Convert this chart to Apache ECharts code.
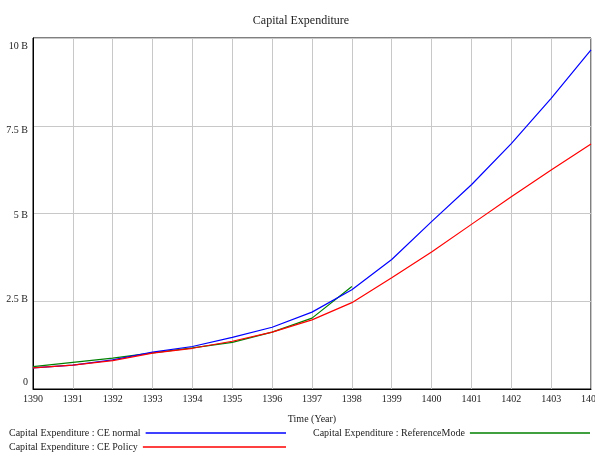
<!DOCTYPE html>
<html>
<head>
<meta charset="utf-8">
<script src="https://cdn.jsdelivr.net/npm/echarts@6/dist/echarts.min.js"></script>
<style>html,body{margin:0;padding:0;background:#fff}#c{width:595px;height:452px}</style>
</head>
<body>
<div id="c"></div>
<script>
// ---- data (values in billions) ----
const years = [1390,1391,1392,1393,1394,1395,1396,1397,1398,1399,1400,1401,1402,1403,1404];
const ceNormal = [0.60,0.68,0.83,1.05,1.21,1.47,1.76,2.19,2.83,3.69,4.77,5.82,6.99,8.28,9.66];
const cePolicy = [0.60,0.68,0.81,1.02,1.16,1.36,1.62,1.97,2.46,3.17,3.90,4.69,5.48,6.24,6.98];
const referenceMode = [0.64,0.76,0.88,1.03,1.17,1.33,1.62,2.02,2.92];
const yTickValues = [0,2.5,5,7.5,10];
const yTickLabels = ['0','2.5 B','5 B','7.5 B','10 B'];
const seriesNames = ['Capital Expenditure : CE normal','Capital Expenditure : CE Policy','Capital Expenditure : ReferenceMode'];
const titleText = 'Capital Expenditure';
const xAxisName = 'Time (Year)';

// ---- style ----
const FONT = '"Liberation Serif", "Times New Roman", serif';
const COLORS = ['#0000ff','#ff0000','#008000'];
// vertical label shift (px, + = down) mimicking the original layout
const yLabelShift = [-7,-2,2,5,8];

function measure(s, size){
  const c = document.createElement('canvas').getContext('2d');
  c.font = size + 'px ' + FONT;
  return c.measureText(s).width;
}
const LF = 10;

function pairs(xs, ys){ return ys.map((v,i)=>[xs[i], v]); }

const rich = {t:{fontFamily:FONT,fontSize:10,color:'#222',lineHeight:12}};
yLabelShift.forEach((s,i)=>{ rich['s'+i] = {fontSize:1, lineHeight:Math.max(1,Math.abs(s)*2)}; });

const chart = echarts.init(document.getElementById('c'), null, {renderer:'canvas'});
const legendLeft1 = 9, lineEnd1 = 286, legendLeft3 = 313, lineEnd3 = 590;
function legend(name, left, lineEnd, centerY){
  const w = measure(name, LF);
  return {
    data:[name], left:left, top:centerY-6, padding:0, align:'right',
    icon:'rect', itemWidth:Math.max(10, lineEnd-left-w-5), itemHeight:1.5,
    textStyle:{fontFamily:FONT,fontSize:LF,color:'#222',lineHeight:12},
    selectedMode:false
  };
}

chart.setOption({
  animation:false,
  backgroundColor:'#fff',
  title:{text:titleText,left:301,top:15,textAlign:'center',padding:0,
    textStyle:{fontFamily:FONT,fontSize:12,fontWeight:'normal',color:'#222'}},
  legend:[
    legend(seriesNames[0], legendLeft1, lineEnd1, 433),
    legend(seriesNames[1], legendLeft1, lineEnd1, 447),
    legend(seriesNames[2], legendLeft3, lineEnd3, 433)
  ],
  grid:{left:33,right:4,top:38,bottom:63,show:true,borderColor:'#000',borderWidth:1,
    containLabel:false,outerBoundsMode:'none'},
  xAxis:{
    type:'value',min:years[0],max:years[years.length-1],interval:1,
    name:xAxisName,nameLocation:'middle',nameGap:25,
    nameTextStyle:{fontFamily:FONT,fontSize:10,color:'#222'},
    axisLine:{lineStyle:{color:'#000',width:1}},
    axisTick:{show:false},
    axisLabel:{fontFamily:FONT,fontSize:10,color:'#222',margin:5,
      formatter:v=>String(v), showMaxLabel:true, showMinLabel:true, hideOverlap:false},
    splitLine:{show:true,lineStyle:{color:'#c8c8c8',width:1}}
  },
  yAxis:{
    type:'value',min:yTickValues[0],max:yTickValues[yTickValues.length-1],interval:2.5,
    axisLine:{show:true,lineStyle:{color:'#000',width:1}},
    axisTick:{show:false},
    axisLabel:{margin:5,rich:rich,
      formatter:v=>{
        const i = yTickValues.indexOf(v);
        if(i<0) return '';
        const s = yLabelShift[i];
        if(s>0) return '{s'+i+'| }\n{t|'+yTickLabels[i]+'}';
        if(s<0) return '{t|'+yTickLabels[i]+'}\n{s'+i+'| }';
        return '{t|'+yTickLabels[i]+'}';
      }},
    splitLine:{show:true,lineStyle:{color:'#c8c8c8',width:1}}
  },
  series:[
    {name:seriesNames[0],type:'line',data:pairs(years,ceNormal),symbol:'none',smooth:false,
      lineStyle:{color:COLORS[0],width:1.2},itemStyle:{color:COLORS[0]},z:3},
    {name:seriesNames[1],type:'line',data:pairs(years,cePolicy),symbol:'none',smooth:false,
      lineStyle:{color:COLORS[1],width:1.2},itemStyle:{color:COLORS[1]},z:4},
    {name:seriesNames[2],type:'line',data:pairs(years,referenceMode),symbol:'none',smooth:false,
      lineStyle:{color:COLORS[2],width:1.2},itemStyle:{color:COLORS[2]},z:2}
  ]
});
</script>
</body>
</html>
